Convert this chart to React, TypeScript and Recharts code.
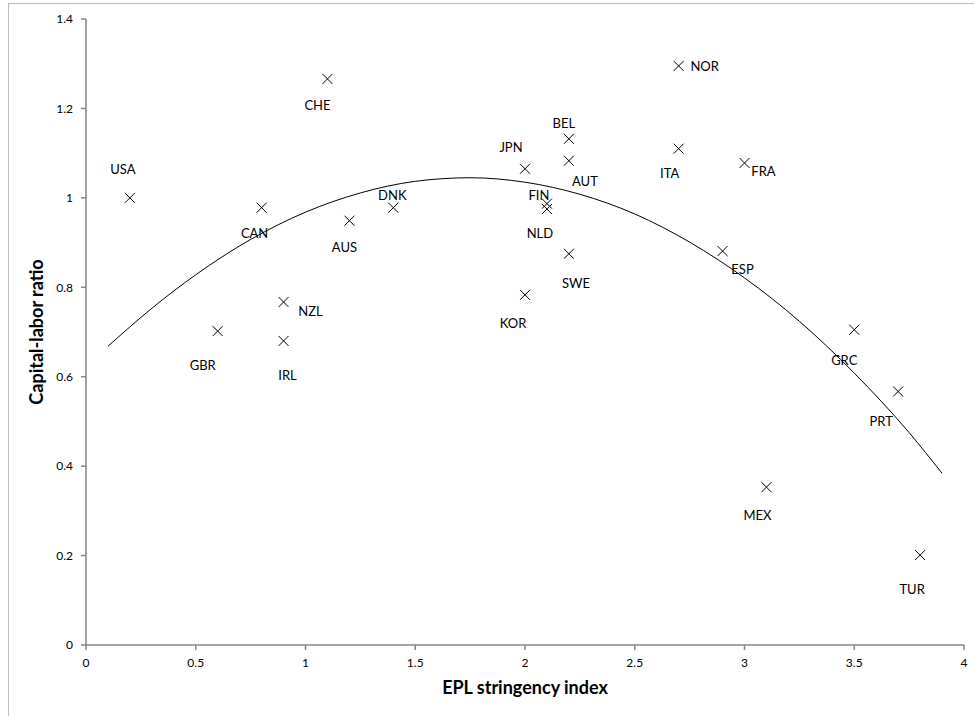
import React from 'react';
import { ScatterChart, Scatter, XAxis, YAxis, Label } from 'recharts';

// Country observations: EPL stringency index (x) and capital-labor ratio (y)
const countries = ['USA', 'CHE', 'CAN', 'AUS', 'DNK', 'NZL', 'GBR', 'IRL', 'JPN', 'BEL', 'AUT', 'FIN', 'NLD', 'SWE', 'KOR', 'NOR', 'ITA', 'FRA', 'ESP', 'GRC', 'PRT', 'MEX', 'TUR'];
const eplIndex = [0.2, 1.1, 0.8, 1.2, 1.4, 0.9, 0.6, 0.9, 2.0, 2.2, 2.2, 2.1, 2.1, 2.2, 2.0, 2.7, 2.7, 3.0, 2.9, 3.5, 3.7, 3.1, 3.8];
const capitalLabor = [1.0, 1.266, 0.978, 0.949, 0.978, 0.767, 0.702, 0.68, 1.065, 1.132, 1.083, 0.987, 0.975, 0.875, 0.783, 1.295, 1.11, 1.078, 0.881, 0.705, 0.567, 0.353, 0.201];

// Polynomial trend line
const trendX = [0.1, 0.3, 0.5, 0.75, 1.0, 1.25, 1.5, 1.75, 2.0, 2.25, 2.5, 2.75, 3.0, 3.25, 3.5, 3.75, 3.9];
const trendY = [0.668, 0.753, 0.828, 0.907, 0.968, 1.011, 1.037, 1.045, 1.035, 1.008, 0.964, 0.901, 0.821, 0.724, 0.608, 0.475, 0.384];

const xTicks = [0, 0.5, 1, 1.5, 2, 2.5, 3, 3.5, 4];
const yTicks = [0, 0.2, 0.4, 0.6, 0.8, 1, 1.2, 1.4];

// Label placement (pixel offsets from marker centre) – styling only
const labelOffsets: Record<string, [number, number]> = {
  USA: [-7, -29], CHE: [-10, 26], CAN: [-7, 25], AUS: [-5, 26], DNK: [-1, -13],
  NZL: [27, 9], GBR: [-15, 34], IRL: [4, 34], JPN: [-14, -22], BEL: [-5, -16],
  AUT: [16, 20], FIN: [-8, -9], NLD: [-7, 24], SWE: [7, 29], KOR: [-12, 28],
  NOR: [26, 0], ITA: [-9, 24], FRA: [19, 8], ESP: [20, 18], GRC: [-10, 30],
  PRT: [-17, 30], MEX: [-9, 28], TUR: [-8, 34],
};

const points = countries.map((name, i) => ({ name, x: eplIndex[i], y: capitalLabor[i] }));
const trend = trendX.map((x, i) => ({ x, y: trendY[i] }));

const FONT = 'Lato, "Open Sans", sans-serif';
const AXIS_COLOR = '#868686';

const CrossShape = (props: any) => {
  const { cx, cy, payload } = props;
  if (cx == null || cy == null) return <g />;
  const s = 5;
  const off = labelOffsets[payload.name] || [0, 0];
  return (
    <g>
      <path
        d={`M${cx - s},${cy - s}L${cx + s},${cy + s}M${cx - s},${cy + s}L${cx + s},${cy - s}`}
        stroke="#000"
        strokeWidth={1}
        fill="none"
      />
      <text
        x={cx + off[0]}
        y={cy + off[1]}
        textAnchor="middle"
        dominantBaseline="central"
        fontFamily={FONT}
        fontSize={13}
        fill="#000"
      >
        {payload.name}
      </text>
    </g>
  );
};

const NoShape = () => <g />;

export default function App() {
  return (
    <div style={{ position: 'absolute', left: 0, top: 0, width: 974, height: 716, background: '#fff' }}>
      <div style={{ position: 'absolute', left: 8, top: 3, width: 966, height: 1, background: '#BEBEBE' }} />
      <div style={{ position: 'absolute', left: 8, top: 3, width: 1, height: 713, background: '#BEBEBE' }} />
      <ScatterChart
        width={974}
        height={716}
        margin={{ top: 19, right: 10, bottom: 21, left: 26 }}
        style={{ position: 'absolute', left: 0, top: 0 }}
      >
        <XAxis
          type="number"
          dataKey="x"
          domain={[0, 4]}
          ticks={xTicks}
          height={50}
          tickSize={5}
          tickMargin={8}
          stroke={AXIS_COLOR}
          strokeWidth={1.5}
          tick={{ fill: '#000', fontSize: 12, fontFamily: FONT }}
          allowDataOverflow
        >
          <Label
            value="EPL stringency index"
            position="insideBottom"
            offset={1}
            style={{ fontFamily: FONT, fontSize: 18, fontWeight: 'bold', fill: '#000' }}
          />
        </XAxis>
        <YAxis
          type="number"
          dataKey="y"
          domain={[0, 1.4]}
          ticks={yTicks}
          width={60}
          tickSize={5}
          tickMargin={8}
          stroke={AXIS_COLOR}
          strokeWidth={1.5}
          tick={{ fill: '#000', fontSize: 12, fontFamily: FONT }}
          allowDataOverflow
        >
          <Label
            value="Capital-labor ratio"
            angle={-90}
            position="insideLeft"
            offset={11}
            style={{ textAnchor: 'middle', fontFamily: FONT, fontSize: 18, fontWeight: 'bold', fill: '#000' }}
          />
        </YAxis>
        <Scatter
          data={trend}
          line={{ stroke: '#000', strokeWidth: 1 }}
          lineJointType="monotoneX"
          shape={NoShape}
          isAnimationActive={false}
          legendType="none"
        />
        <Scatter data={points} shape={CrossShape} isAnimationActive={false} legendType="none" />
      </ScatterChart>
    </div>
  );
}
